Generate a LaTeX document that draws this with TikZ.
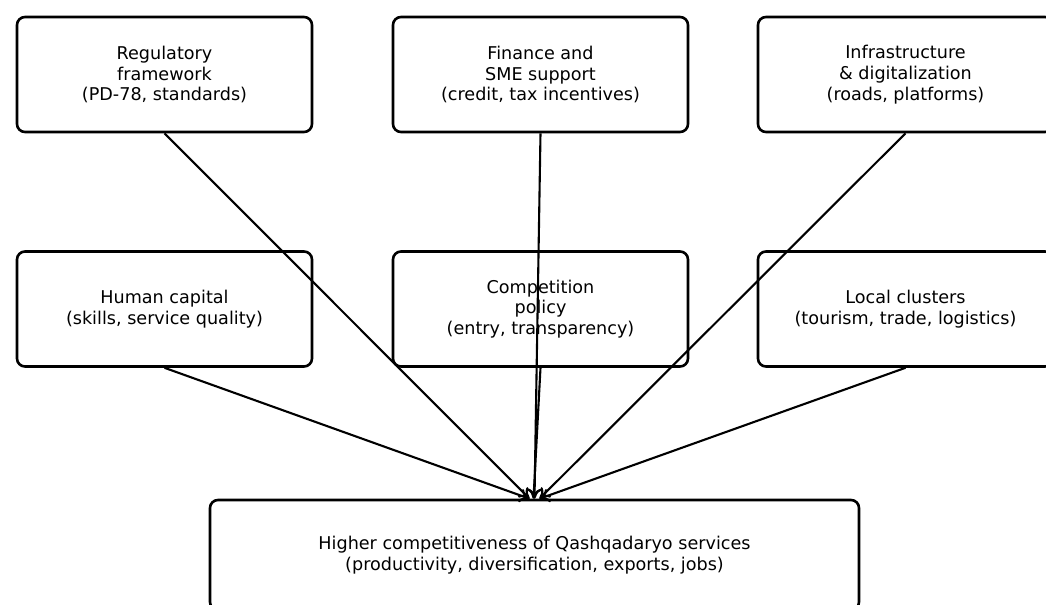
\documentclass[tikz,border=0pt]{standalone}
\usepackage{fontspec}
\setmainfont{DejaVu Sans}
\usetikzlibrary{arrows.meta}

\tikzset{
  factor/.style={draw, line width=1.3pt, rounded corners=4pt, minimum width=147.5pt,
    minimum height=57.5pt, align=center, font=\fontsize{8.8}{10.4}\selectfont},
  link/.style={-{To[length=5pt,width=7pt]}, line width=1.05pt}
}

\begin{document}
\begin{tikzpicture}[x=0.5pt, y=-0.5pt, node distance=117.25pt]
          \useasboundingbox (0,0) rectangle (1046,605);
          \node[factor] (1) at (164.5,74.5) {Regulatory\\framework\\(PD-78, standards)};
          \node[factor] (2) at (540.5,74.5) {Finance and\\SME support\\(credit, tax incentives)};
          \node[factor] (3) at (905.5,74.5) {Infrastructure\\\& digitalization\\(roads, platforms)};
          \node[factor] (4) [below of=1] {Human capital\\(skills, service quality)};
          \node[factor] (5) [below of=2] {Competition\\policy\\(entry, transparency)};
          \node[factor] (6) [below of=3] {Local clusters\\(tourism, trade, logistics)};
          \node[factor, minimum width=324.5pt, minimum height=55pt] (7) at (534.5,555)
            {Higher competitiveness of Qashqadaryo services\\(productivity, diversification, exports, jobs)};

          \draw[link] (1.south) -- ([xshift=-2.5pt]7.north);
          \draw[link] (2.south) -- (7.north);
          \draw[link] (3.south) -- ([xshift=2.5pt]7.north);
          \draw[link] (4.south) -- ([xshift=-2.5pt]7.north);
          \draw[link] (5.south) -- ([xshift=-0.5pt]7.north);
          \draw[link] (6.south) -- ([xshift=2.5pt]7.north);
    \end{tikzpicture}
\end{document}
